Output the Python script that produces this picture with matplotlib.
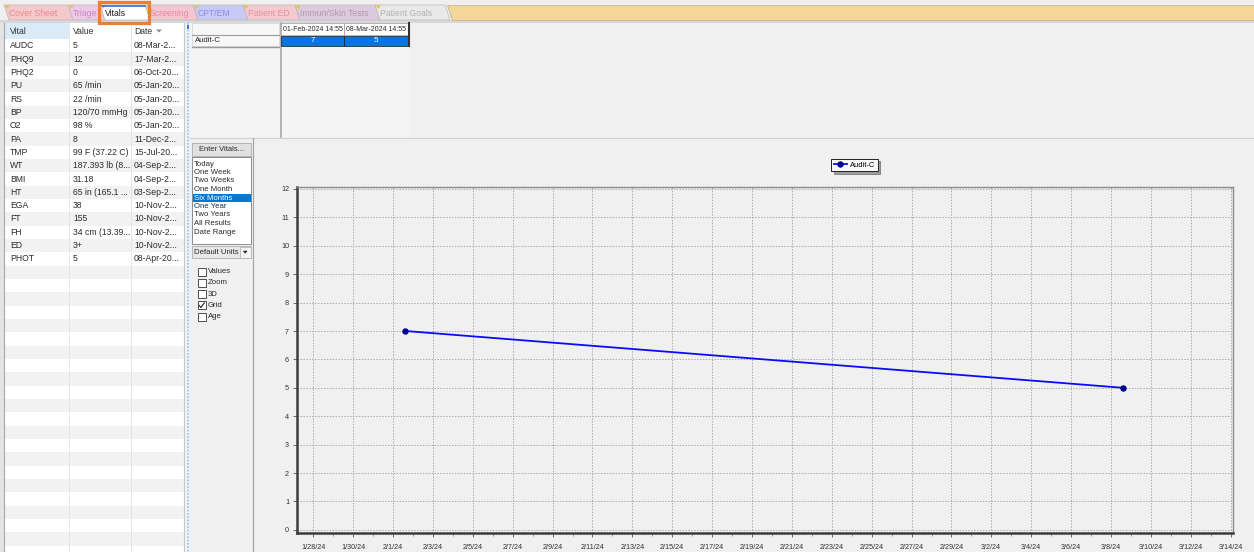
import matplotlib
matplotlib.use('Agg')
import matplotlib.pyplot as plt
import matplotlib.dates as mdates
from matplotlib.patches import Rectangle, Polygon
from datetime import datetime

plt.rcParams['font.family'] = ['Liberation Sans', 'DejaVu Sans']

# ---------------- data ----------------
tab_names = ['Cover Sheet', 'Triage', 'Vitals', 'Screening', 'CPT/EM',
             'Patient ED', 'Immun/Skin Tests', 'Patient Goals']
active_tab = 'Vitals'
table_headers = ['Vital', 'Value', 'Date']
vital_names = ['AUDC', 'PHQ9', 'PHQ2', 'PU', 'RS', 'BP', 'O2', 'PA', 'TMP',
               'WT', 'BMI', 'HT', 'EGA', 'FT', 'FH', 'ED', 'PHOT']
vital_values = ['5', '12', '0', '65 /min', '22 /min', '120/70 mmHg', '98 %', '8',
                '99 F (37.22 C)', '187.393 lb (8...', '31.18', '65 in (165.1 ...',
                '38', '155', '34 cm (13.39...', '3+', '5']
vital_dates = ['08-Mar-2...', '17-Mar-2...', '06-Oct-20...', '05-Jan-20...',
               '05-Jan-20...', '05-Jan-20...', '05-Jan-20...', '11-Dec-2...',
               '15-Jul-20...', '04-Sep-2...', '04-Sep-2...', '03-Sep-2...',
               '10-Nov-2...', '10-Nov-2...', '10-Nov-2...', '10-Nov-2...',
               '08-Apr-20...']
series_name = 'Audit-C'
obs_times = ['01-Feb-2024 14:55', '08-Mar-2024 14:55']
audit_c = [7, 5]
range_options = ['Today', 'One Week', 'Two Weeks', 'One Month', 'Six Months',
                 'One Year', 'Two Years', 'All Results', 'Date Range']
selected_range = 'Six Months'
check_options = ['Values', 'Zoom', '3D', 'Grid', 'Age']
checked_options = ['Grid']
y_ticks = [0, 1, 2, 3, 4, 5, 6, 7, 8, 9, 10, 11, 12]
x_tick_labels = ['1/28/24', '1/30/24', '2/1/24', '2/3/24', '2/5/24', '2/7/24',
                 '2/9/24', '2/11/24', '2/13/24', '2/15/24', '2/17/24', '2/19/24',
                 '2/21/24', '2/23/24', '2/25/24', '2/27/24', '2/29/24', '3/2/24',
                 '3/4/24', '3/6/24', '3/8/24', '3/10/24', '3/12/24', '3/14/24']
x_range = ['2024-01-27 04:00', '2024-03-14 02:30']

# ---------------- figure ----------------
W, H = 1254, 552
fig = plt.figure(figsize=(W / 100, H / 100), dpi=100, facecolor='#f0f0f0')
bg = fig.add_axes([0, 0, 1, 1], zorder=0)
bg.set_xlim(0, W)
bg.set_ylim(H, 0)
bg.axis('off')
bg.set_facecolor('#f0f0f0')

FS = 6.2
TXT = '#2a2a2a'


def rect(x0, y0, x1, y1, fc, ec='none', lw=0.7, z=1):
    bg.add_patch(Rectangle((x0, y0), x1 - x0, y1 - y0, facecolor=fc,
                           edgecolor=ec, linewidth=lw, zorder=z))


def hline(y, x0, x1, c, lw=0.7, ls='-', z=2):
    bg.plot([x0, x1], [y, y], color=c, lw=lw, ls=ls, zorder=z)


def vline(x, y0, y1, c, lw=0.7, ls='-', z=2):
    bg.plot([x, x], [y0, y1], color=c, lw=lw, ls=ls, zorder=z)


# ---------------- tab strip ----------------
tab_edges = [4, 68, 100, 145, 193, 243, 295, 375, 445]
tab_fc = ['#f5c9cc', '#ecc9e6', '#ffffff', '#f5c6d2', '#c9c9f5', '#f5c9cf',
          '#dccbdc', '#e9e9e9']
tab_tc = ['#e58a8f', '#c98ac4', '#1a1a1a', '#e48aa0', '#8c8ce2', '#e3939b',
          '#b596b5', '#b3b3b3']
rect(0, 20, W, 23, '#d8d8d8', z=1)
bg.add_patch(Polygon([[447, 5], [W, 5], [W, 20], [452, 20]], closed=True,
                     facecolor='#f3d79a', edgecolor='#c9b690', lw=0.6, zorder=1))
for i, name in enumerate(tab_names):
    x0, x1 = tab_edges[i], tab_edges[i + 1]
    bg.add_patch(Polygon([[x0, 5], [x1, 5], [x1 + 5, 20], [x0 + 5, 20]], closed=True,
                         facecolor=tab_fc[i], edgecolor='#b8b8b8', lw=0.5,
                         zorder=2 if name != active_tab else 3))
    bg.add_patch(Polygon([[x0 + 1, 5.3], [x0 + 6, 5.3], [x0 + 3, 9]], closed=True,
                         facecolor='#f0c040', edgecolor='none', zorder=3))
    if name == active_tab:
        hline(5.5, x0 + 2, x1, '#2f6fd6', lw=1.2, z=4)
    bg.text(x0 + 5, 13, name, fontsize=6.2, color=tab_tc[i], va='center',
            ha='left', zorder=5)
ai = tab_names.index(active_tab)
rect(tab_edges[ai] - 1, 1.5, tab_edges[ai + 1] + 4, 22.5, 'none', ec='#e8803a',
     lw=2.3, z=6)

# ---------------- vitals table ----------------
rect(0, 23, 4, H, '#e4e4e4', z=1)
rect(4, 23, 184, H, '#ffffff', z=1)
row_h = 13.33
y_first = 45.7
n_rows = int((H - (y_first - row_h / 2)) / row_h) + 1
for r in range(n_rows):
    yc = y_first + r * row_h
    if r % 2 == 1:
        rect(4, yc - row_h / 2, 184, yc + row_h / 2, '#f2f2f2', z=1.2)
rect(4, 23, 69, 38.6, '#d9ebf9', z=1.3)
for cx in [69, 131]:
    vline(cx, 23, H, '#e2e2e2', lw=0.6)
vline(184, 23, H, '#c8c8c8', lw=0.8)
vline(4, 23, H, '#a8a8a8', lw=0.8)
hdr_x = [10, 73, 134]
for hx, h in zip(hdr_x, table_headers):
    bg.text(hx, 31, h, fontsize=FS, color='#333333', va='center', zorder=5)
bg.add_patch(Polygon([[156, 29.5], [162, 29.5], [159, 32.5]], closed=True,
                     facecolor='#8a8a8a', edgecolor='none', zorder=5))
for r, (n, v, d) in enumerate(zip(vital_names, vital_values, vital_dates)):
    yc = y_first + r * row_h
    bg.text(hdr_x[0], yc, n, fontsize=FS, color=TXT, va='center', zorder=5)
    bg.text(hdr_x[1], yc, v, fontsize=FS, color=TXT, va='center', zorder=5)
    bg.text(hdr_x[2], yc, d, fontsize=FS, color=TXT, va='center', zorder=5)

# splitter
rect(185, 23, 190, H, '#eef3f8', z=1)
vline(187.5, 23, H, '#9cc0e6', lw=1.2, ls=(0, (1, 1)), z=2)
rect(186.5, 25, 188.5, 29, '#3a7fd0', z=3)

# ---------------- top grid (observations) ----------------
rect(190, 23, 410, 137, '#f4f4f4', z=1)
hline(137.5, 190, W, '#d2d2d2', lw=0.8)
rect(192, 23, 279, 35, '#f7f7f7', ec='#d0d0d0', lw=0.5, z=2)
rect(192, 35, 279, 46, '#f7f7f7', ec='#d0d0d0', lw=0.5, z=2)
hline(46.5, 192, 279, '#9a9a9a', lw=1.0)
hline(35, 192, 279, '#9a9a9a', lw=0.8)
vline(280.5, 23, 137, '#a8a8a8', lw=1.2)
cell_x = [281, 344, 408]
for i, (t, v) in enumerate(zip(obs_times, audit_c)):
    x0, x1 = cell_x[i], cell_x[i + 1]
    rect(x0, 23, x1, 35, '#ffffff', ec='#9a9a9a', lw=0.5, z=2)
    bg.text((x0 + x1) / 2, 29.5, t, fontsize=5.0, color=TXT, ha='center',
            va='center', zorder=5)
    rect(x0, 35.5, x1, 46, '#0a74da', ec='#1a1a1a', lw=0.5, z=2)
    bg.text((x0 + x1) / 2, 40.8, str(v), fontsize=5.8, color='white', ha='center',
            va='center', zorder=5)
vline(409, 23, 46, '#333333', lw=1.5)
bg.text(195, 40.8, series_name, fontsize=5.6, color=TXT, va='center', zorder=5)

# ---------------- control panel ----------------
vline(252.5, 138, H, '#a0a0a0', lw=0.8)
rect(192, 143, 251, 156, '#e1e1e1', ec='#adadad', lw=0.6, z=2)
bg.text(221.5, 149.5, 'Enter Vitals...', fontsize=5.4, color=TXT, ha='center',
        va='center', zorder=5)
rect(192, 157, 251, 244, '#ffffff', ec='#7a7a7a', lw=0.6, z=2)
for i, opt in enumerate(range_options):
    yc = 164 + i * 8.5
    col = TXT
    if opt == selected_range:
        rect(193, yc - 4.2, 250.5, yc + 4.2, '#0078d7', z=3)
        col = 'white'
    bg.text(194, yc, opt, fontsize=5.6, color=col, va='center', zorder=5)
rect(192, 246, 251, 258, '#e8e8e8', ec='#adadad', lw=0.6, z=2)
rect(240, 247, 250.5, 257.5, '#f4f4f4', ec='#adadad', lw=0.5, z=3)
bg.add_patch(Polygon([[242.8, 250.8], [247.6, 250.8], [245.2, 253.6]], closed=True,
                     facecolor='#222222', edgecolor='none', zorder=4))
bg.text(194, 252, 'Default Units', fontsize=5.6, color=TXT, va='center', zorder=5)
for i, opt in enumerate(check_options):
    yc = 271.7 + i * 11.2
    rect(197.5, yc - 4, 205.5, yc + 4, '#ffffff', ec='#333333', lw=0.6, z=3)
    if opt in checked_options:
        bg.plot([199, 201, 204.3], [yc, yc + 2.2, yc - 2.5], color='#222222',
                lw=0.8, zorder=4)
    bg.text(207.5, yc, opt, fontsize=5.6, color=TXT, va='center', zorder=5)

# ---------------- chart ----------------
L, R, T, B = 296.7, 1232.7, 186.7, 532.7
ax = fig.add_axes([L / W, 1 - B / H, (R - L) / W, (B - T) / H], zorder=2)
ax.set_facecolor('#f0f0f0')

xd = [datetime.strptime(t, '%d-%b-%Y %H:%M') for t in obs_times]
ax.plot(xd, audit_c, color='#0a0aff', lw=1.3, marker='o', markersize=3.6,
        markerfacecolor='#00008b', markeredgecolor='#00008b', label=series_name,
        zorder=3)

tick_dates = [datetime.strptime(s, '%m/%d/%y') for s in x_tick_labels]
ax.set_xticks(tick_dates)
ax.set_xticklabels(x_tick_labels)
ax.xaxis.set_minor_locator(mdates.DayLocator())
ax.set_xlim(datetime.strptime(x_range[0], '%Y-%m-%d %H:%M'),
            datetime.strptime(x_range[1], '%Y-%m-%d %H:%M'))
ax.set_yticks(y_ticks)
ax.set_ylim(-0.1, 12.08)

ax.grid(True, which='major', color='#ababab', lw=0.7, ls=(0, (1.5, 1.5)))
ax.tick_params(axis='both', which='major', labelsize=5.2, colors='#555555',
               labelcolor='#333333', length=3, width=0.6, pad=2.5)
ax.tick_params(axis='x', which='minor', length=2, width=0.5, colors='#777777')
ax.tick_params(axis='x', which='major', pad=5)
for s in ['left', 'bottom']:
    ax.spines[s].set_color('#3c3c3c')
    ax.spines[s].set_linewidth(1.8)
for s in ['top', 'right']:
    ax.spines[s].set_color('#8a8a8a')
    ax.spines[s].set_linewidth(1.0)

leg = ax.legend(loc='center', bbox_to_anchor=(854.4 / W, 1 - 164.9 / H),
                bbox_transform=fig.transFigure, fontsize=5.4, frameon=True,
                fancybox=False, shadow=True, handlelength=1.7, borderpad=0.35,
                handletextpad=0.4)
leg.get_frame().set_edgecolor('#222222')
leg.get_frame().set_facecolor('#f8f8f8')
leg.get_frame().set_linewidth(0.7)

fig.savefig('out.png', dpi=100, facecolor=fig.get_facecolor())
